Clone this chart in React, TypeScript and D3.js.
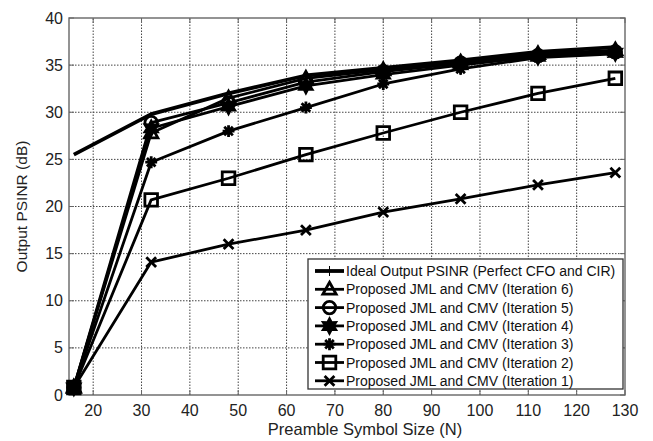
import React from 'react';
import * as d3 from 'd3';

const N = [16, 32, 48, 64, 80, 96, 112, 128];
const ideal = [25.5, 29.8, 32.0, 33.9, 34.7, 35.5, 36.4, 36.9];
const iter6 = [0.8, 27.8, 31.5, 33.6, 34.5, 35.3, 36.2, 36.6];
const iter5 = [0.8, 28.9, 31.0, 33.2, 34.3, 35.2, 36.0, 36.4];
const iter4 = [0.8, 28.3, 30.6, 32.8, 34.0, 35.0, 35.9, 36.3];
const iter3 = [0.8, 24.7, 28.0, 30.5, 33.0, 34.6, 35.8, 36.2];
const iter2 = [0.8, 20.7, 23.0, 25.5, 27.8, 30.0, 32.0, 33.6];
const iter1 = [0.8, 14.1, 16.0, 17.5, 19.4, 20.8, 22.3, 23.6];

const xTicks = [20, 30, 40, 50, 60, 70, 80, 90, 100, 110, 120, 130];
const yTicks = [0, 5, 10, 15, 20, 25, 30, 35, 40];

const series = [
  { label: 'Ideal Output PSINR (Perfect CFO and CIR)', values: ideal, marker: 'none' },
  { label: 'Proposed JML and CMV (Iteration 6)', values: iter6, marker: 'triangle' },
  { label: 'Proposed JML and CMV (Iteration 5)', values: iter5, marker: 'circle' },
  { label: 'Proposed JML and CMV (Iteration 4)', values: iter4, marker: 'hexagram' },
  { label: 'Proposed JML and CMV (Iteration 3)', values: iter3, marker: 'asterisk' },
  { label: 'Proposed JML and CMV (Iteration 2)', values: iter2, marker: 'square' },
  { label: 'Proposed JML and CMV (Iteration 1)', values: iter1, marker: 'x' },
];

const markerPath = (type, r = 7) => {
  switch (type) {
    case 'triangle':
      return `M0,${-r}L${r * 0.95},${r * 0.7}L${-r * 0.95},${r * 0.7}Z`;
    case 'circle':
      return d3.symbol().type(d3.symbolCircle).size(Math.PI * r * r * 0.8)();
    case 'square': {
      const s = r * 0.9;
      return `M${-s},${-s}H${s}V${s}H${-s}Z`;
    }
    case 'hexagram': {
      const pts = d3.range(12).map(i => {
        const a = (i * Math.PI) / 6 - Math.PI / 2;
        const rr = i % 2 === 0 ? r : r * 0.55;
        return [rr * Math.cos(a), rr * Math.sin(a)];
      });
      return 'M' + pts.map(p => p.join(',')).join('L') + 'Z';
    }
    case 'asterisk': {
      const s = r * 0.85, d = s * 0.72;
      return `M0,${-s}V${s}M${-s},0H${s}M${-d},${-d}L${d},${d}M${-d},${d}L${d},${-d}`;
    }
    case 'x': {
      const s = r * 0.7;
      return `M${-s},${-s}L${s},${s}M${-s},${s}L${s},${-s}`;
    }
    default:
      return '';
  }
};

const App = () => {
  const width = 653, height = 441;
  const m = { left: 69, top: 18, right: 28, bottom: 46 };
  const x = d3.scaleLinear().domain([15, 130]).range([m.left, width - m.right]);
  const y = d3.scaleLinear().domain([0, 40]).range([height - m.bottom, m.top]);
  const line = d3.line().x((d, i) => x(N[i])).y(d => y(d));
  const x0 = x.range()[0], x1 = x.range()[1], y0 = y.range()[0], y1 = y.range()[1];
  const font = 'Liberation Sans, Arial, sans-serif';

  const lg = { x: 308, y: 259, w: 315, h: 130, row: 18.3 };

  return (
    <svg width={width} height={height} style={{ position: 'absolute', left: 0, top: 0 }} fontFamily={font}>
      <rect width={width} height={height} fill="#fff" />
      {/* grid */}
      <g stroke="#444" strokeWidth="1" strokeDasharray="1.5,1.5">
        {xTicks.filter(t => t < 130).map(t => (
          <line key={'gx' + t} x1={x(t)} x2={x(t)} y1={y0} y2={y1} />
        ))}
        {yTicks.filter(t => t > 0 && t < 40).map(t => (
          <line key={'gy' + t} x1={x0} x2={x1} y1={y(t)} y2={y(t)} />
        ))}
      </g>
      {/* frame and ticks */}
      <rect x={x0} y={y1} width={x1 - x0} height={y0 - y1} fill="none" stroke="#666" strokeWidth="1.4" />
      <g stroke="#666" strokeWidth="1">
        {xTicks.map(t => (
          <g key={'tx' + t}>
            <line x1={x(t)} x2={x(t)} y1={y0} y2={y0 - 5} />
            <line x1={x(t)} x2={x(t)} y1={y1} y2={y1 + 5} />
          </g>
        ))}
        {yTicks.map(t => (
          <g key={'ty' + t}>
            <line x1={x0} x2={x0 + 5} y1={y(t)} y2={y(t)} />
            <line x1={x1} x2={x1 - 5} y1={y(t)} y2={y(t)} />
          </g>
        ))}
      </g>
      {/* series */}
      <g>
        {series.map((s, i) => (
          <g key={'s' + i}>
            <path d={line(s.values)} fill="none" stroke="#000" strokeWidth={i === 0 ? 3.8 : 2.8} strokeLinejoin="round" />
            {s.marker !== 'none' && s.values.map((v, j) => (
              <path key={j} d={markerPath(s.marker)} transform={`translate(${x(N[j])},${y(v)})`}
                fill={s.marker === 'hexagram' ? '#000' : 'none'} stroke="#000" strokeWidth="2.8" />
            ))}
          </g>
        ))}
      </g>
      {/* tick labels */}
      <g fontSize="16" fill="#222">
        {xTicks.map(t => (
          <text key={'lx' + t} x={x(t)} y={y0 + 21} textAnchor="middle">{t}</text>
        ))}
        {yTicks.map(t => (
          <text key={'ly' + t} x={x0 - 6} y={y(t) + 5.5} textAnchor="end">{t}</text>
        ))}
      </g>
      <text x={365} y={height - 6} textAnchor="middle" fontSize="16.5" fill="#222">Preamble Symbol Size (N)</text>
      <text transform={`translate(27,${(y0 + y1) / 2}) rotate(-90)`} textAnchor="middle" fontSize="15.5" fill="#222">Output PSINR (dB)</text>
      {/* legend */}
      <g>
        <rect x={lg.x} y={lg.y} width={lg.w} height={lg.h} fill="#fff" stroke="#333" strokeWidth="1.3" />
        {series.map((s, i) => {
          const cy = lg.y + 12 + i * lg.row;
          return (
            <g key={'lg' + i}>
              <line x1={lg.x + 7} x2={lg.x + 36} y1={cy} y2={cy} stroke="#000" strokeWidth={i === 0 ? 3.8 : 2.8} />
              {i === 0 && <line x1={lg.x + 21.5} x2={lg.x + 21.5} y1={cy - 5} y2={cy + 5} stroke="#000" strokeWidth="1" />}
              {s.marker !== 'none' && (
                <path d={markerPath(s.marker)} transform={`translate(${lg.x + 21.5},${cy})`}
                  fill={s.marker === 'hexagram' ? '#000' : 'none'} stroke="#000" strokeWidth="2.8" />
              )}
              <text x={lg.x + 38} y={cy + 5} fontSize="14" fill="#111">{s.label}</text>
            </g>
          );
        })}
      </g>
    </svg>
  );
};

export default App;
